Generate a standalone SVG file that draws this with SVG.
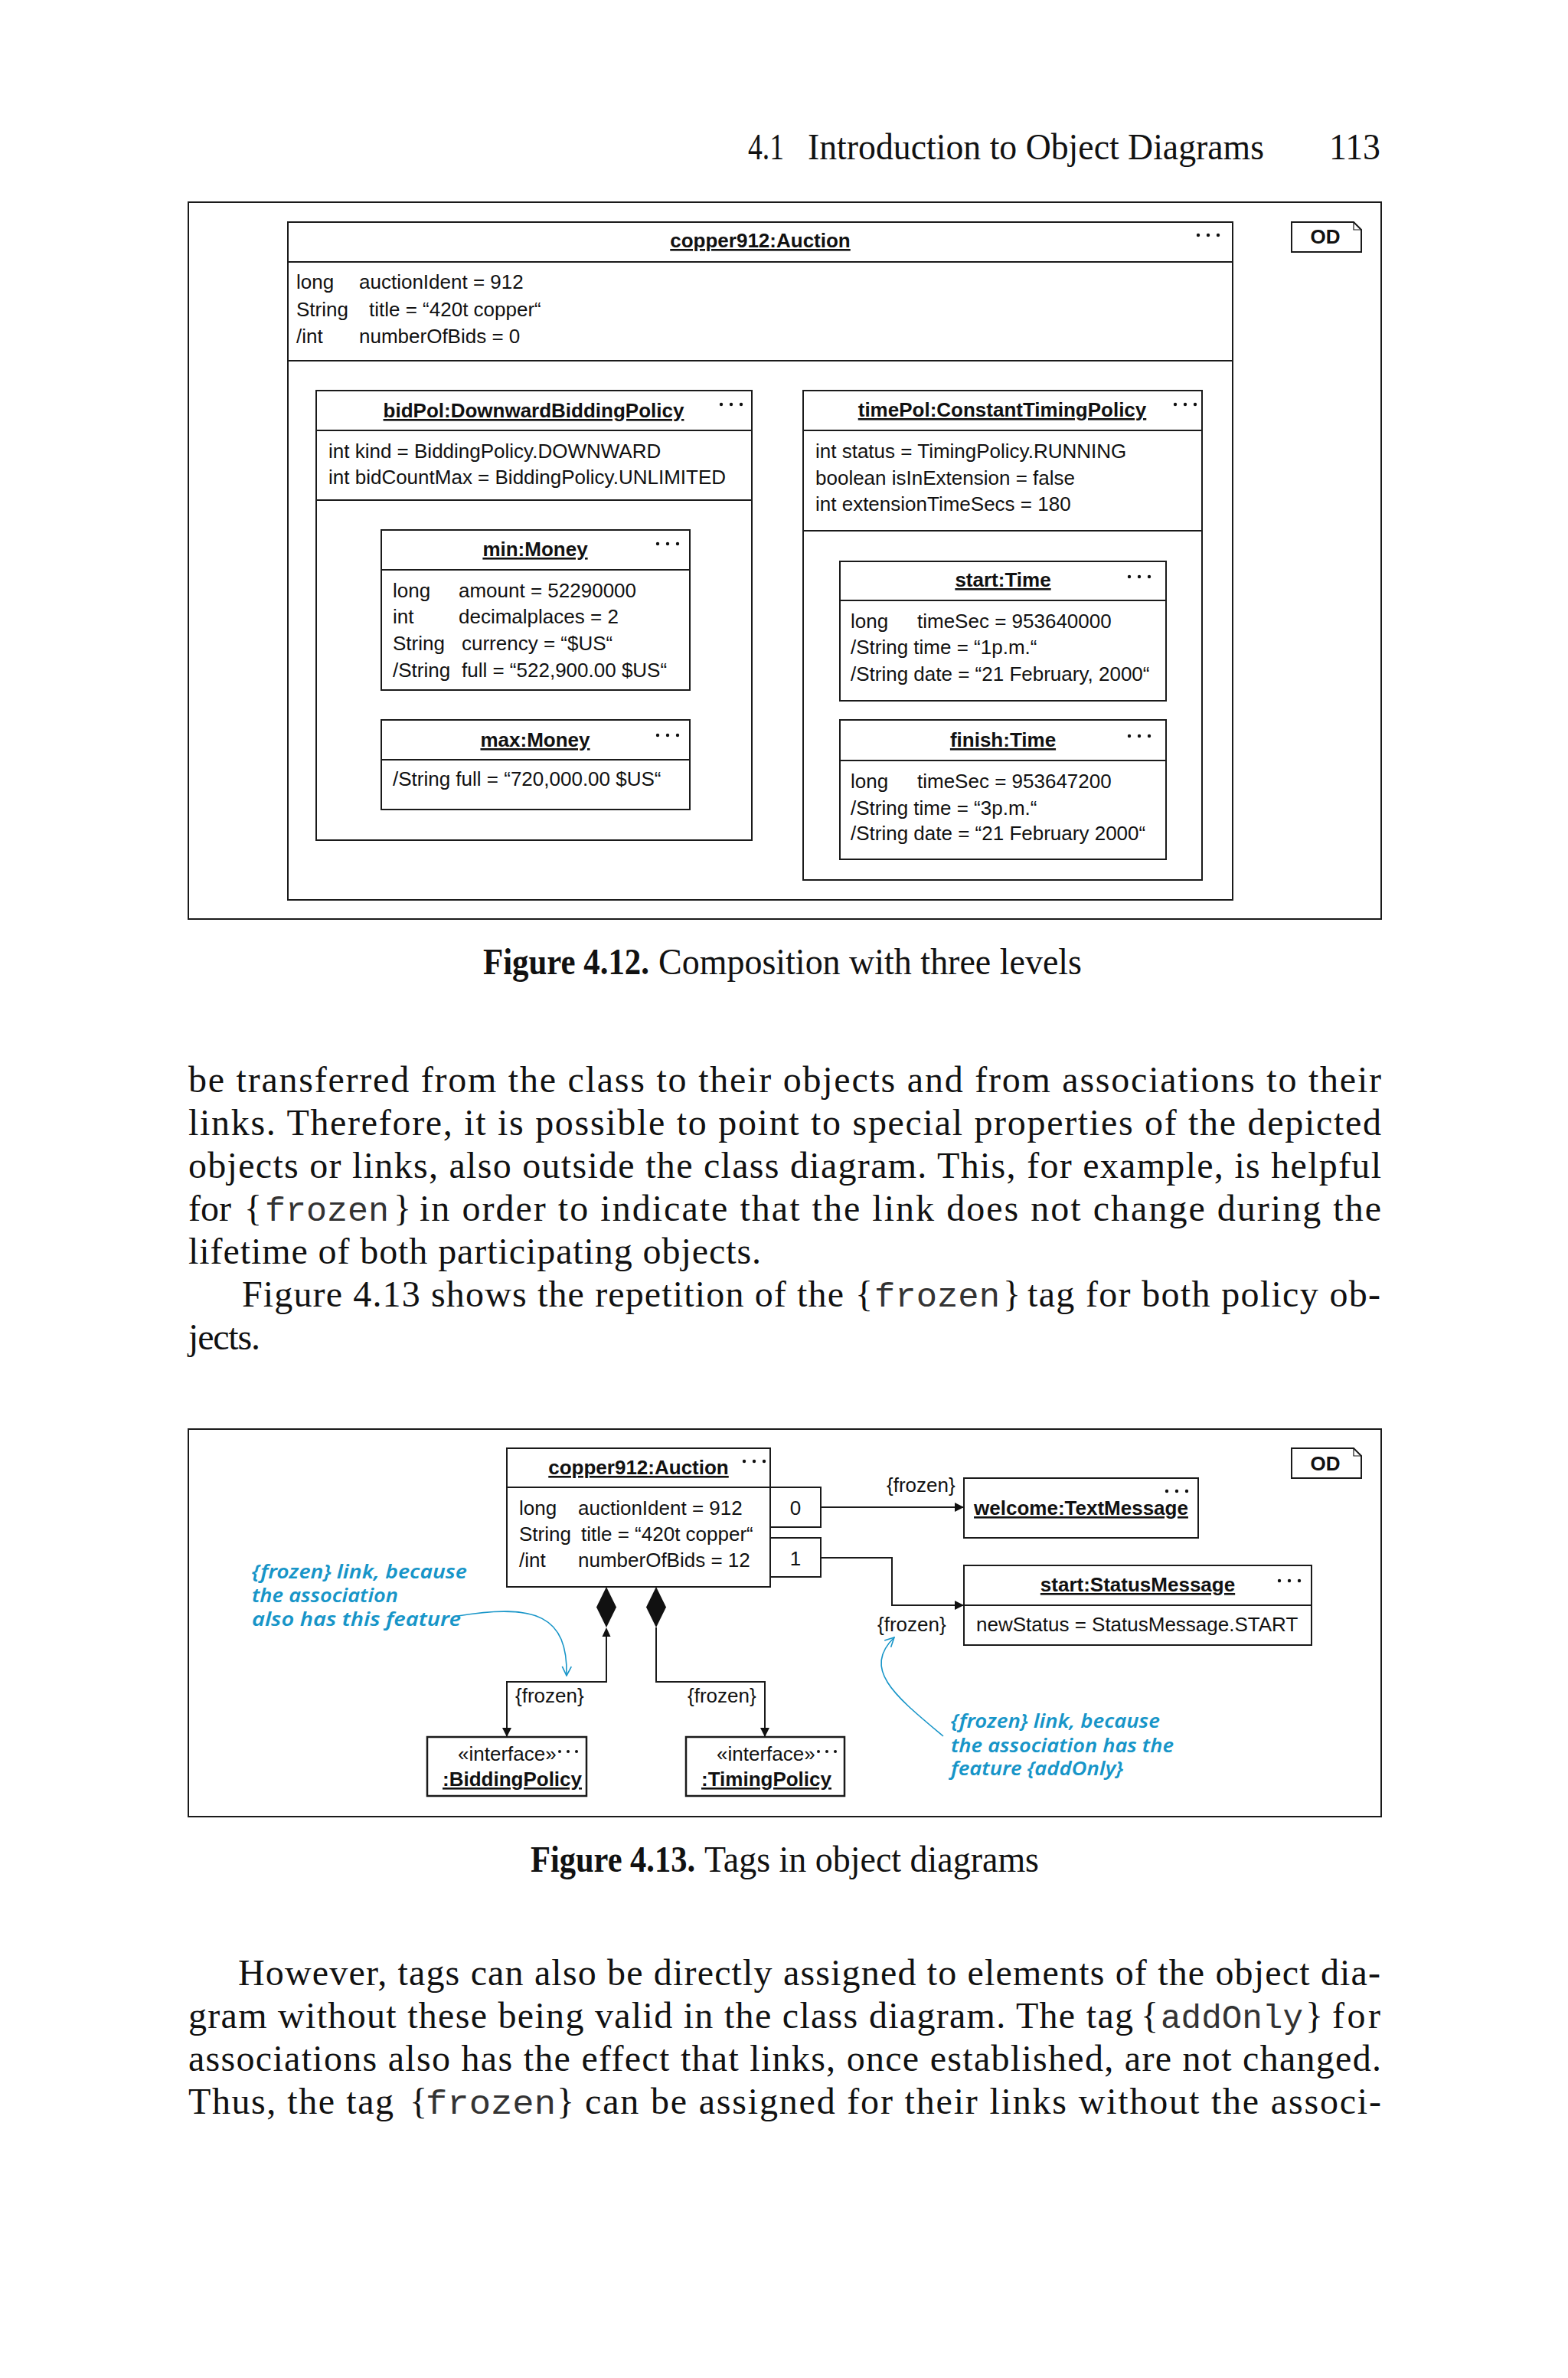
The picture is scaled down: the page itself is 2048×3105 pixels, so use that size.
<svg xmlns="http://www.w3.org/2000/svg" width="2048" height="3105" viewBox="0 0 2048 3105">
<style>
.fr{fill:none;stroke:#1a1a1a;stroke-width:2}
.bx{fill:#fff;stroke:#1a1a1a;stroke-width:2}
.ln{fill:none;stroke:#1a1a1a;stroke-width:2}
.t{font-family:"Liberation Sans",Arial,sans-serif;font-size:26px;fill:#111}
.tb{font-family:"Liberation Sans",Arial,sans-serif;font-size:26px;fill:#111;font-weight:bold;text-decoration:underline}
.od{font-family:"Liberation Sans",Arial,sans-serif;font-size:26px;fill:#111;font-weight:bold}
.c{text-anchor:middle}
.s{font-family:"Liberation Serif","Times New Roman",serif;font-size:48px;fill:#111}
.sb{font-family:"Liberation Serif","Times New Roman",serif;font-size:48px;fill:#111;font-weight:bold}
.m{font-family:"Liberation Mono","Courier New",monospace;font-size:45px;fill:#333}
.bl{font-family:"Noto Sans","DejaVu Sans",sans-serif;font-style:italic;font-weight:600;font-size:26px;fill:#1795c8}
.bc{fill:none;stroke:#1795c8;stroke-width:1.6}
</style>
<defs>
<g id="dots" fill="#111"><circle cx="0" cy="0" r="2.2"/><circle cx="13" cy="0" r="2.2"/><circle cx="26" cy="0" r="2.2"/></g>
<g id="dots2" fill="#111"><circle cx="0" cy="0" r="2"/><circle cx="11" cy="0" r="2"/><circle cx="22" cy="0" r="2"/></g>
<marker id="ah" viewBox="0 0 12 12" refX="12" refY="6" markerWidth="12" markerHeight="12" markerUnits="userSpaceOnUse" orient="auto"><path d="M0,0 L12,6 L0,12 Z" fill="#111"/></marker>
<marker id="bh" viewBox="0 0 14 14" refX="13" refY="7" markerWidth="14" markerHeight="14" markerUnits="userSpaceOnUse" orient="auto"><path d="M1,1 L13,7 L1,13" fill="none" stroke="#1795c8" stroke-width="1.6"/></marker>
</defs>
<rect width="2048" height="3105" fill="#fff"/>

<g id="header">
<text class="s" x="977" y="208" textLength="47" lengthAdjust="spacingAndGlyphs">4.1</text>
<text class="s" x="1055" y="208" textLength="596" lengthAdjust="spacingAndGlyphs">Introduction to Object Diagrams</text>
<text class="s" x="1736" y="208" textLength="67" lengthAdjust="spacingAndGlyphs">113</text>
</g>

<!-- Figure 4.12 -->
<g id="fig412">
<rect class="fr" x="246" y="264" width="1558" height="936"/>
<g id="od1">
<path class="bx" d="M1687 290 H1768 L1778 300 V329 H1687 Z"/>
<path class="ln" style="stroke-width:1.2" d="M1768 290 V300 H1778"/>
<text class="od c" x="1731" y="318">OD</text>
</g>
<g id="copper912_auction_a">
<rect class="bx" x="376" y="290" width="1234" height="885"/>
<line class="ln" x1="376" y1="342" x2="1610" y2="342"/>
<line class="ln" x1="376" y1="471" x2="1610" y2="471"/>
<text class="tb c" x="993" y="323">copper912:Auction</text>
<use href="#dots" x="1565" y="307"/>
<text class="t" x="387" y="377">long</text><text class="t" x="469" y="377">auctionIdent = 912</text>
<text class="t" x="387" y="413">String</text><text class="t" x="482" y="413">title = “420t copper“</text>
<text class="t" x="387" y="448">/int</text><text class="t" x="469" y="448">numberOfBids = 0</text>
</g>
<g id="bidPol">
<rect class="bx" x="413" y="510" width="569" height="587"/>
<line class="ln" x1="413" y1="562" x2="982" y2="562"/>
<line class="ln" x1="413" y1="653" x2="982" y2="653"/>
<text class="tb c" x="697" y="545">bidPol:DownwardBiddingPolicy</text>
<use href="#dots" x="942" y="528"/>
<text class="t" x="429" y="598">int kind = BiddingPolicy.DOWNWARD</text>
<text class="t" x="429" y="632">int bidCountMax = BiddingPolicy.UNLIMITED</text>
</g>
<g id="minMoney">
<rect class="bx" x="498" y="692" width="403" height="209"/>
<line class="ln" x1="498" y1="744" x2="901" y2="744"/>
<text class="tb c" x="699" y="726">min:Money</text>
<use href="#dots" x="859" y="710"/>
<text class="t" x="513" y="780">long</text><text class="t" x="599" y="780">amount = 52290000</text>
<text class="t" x="513" y="814">int</text><text class="t" x="599" y="814">decimalplaces = 2</text>
<text class="t" x="513" y="849">String</text><text class="t" x="603" y="849">currency = “$US“</text>
<text class="t" x="513" y="884">/String</text><text class="t" x="603" y="884">full = “522,900.00 $US“</text>
</g>
<g id="maxMoney">
<rect class="bx" x="498" y="940" width="403" height="117"/>
<line class="ln" x1="498" y1="992" x2="901" y2="992"/>
<text class="tb c" x="699" y="975">max:Money</text>
<use href="#dots" x="859" y="960"/>
<text class="t" x="513" y="1026">/String full = “720,000.00 $US“</text>
</g>
<g id="timePol">
<rect class="bx" x="1049" y="510" width="521" height="639"/>
<line class="ln" x1="1049" y1="562" x2="1570" y2="562"/>
<line class="ln" x1="1049" y1="693" x2="1570" y2="693"/>
<text class="tb c" x="1309" y="544">timePol:ConstantTimingPolicy</text>
<use href="#dots" x="1535" y="528"/>
<text class="t" x="1065" y="598">int status = TimingPolicy.RUNNING</text>
<text class="t" x="1065" y="633">boolean isInExtension = false</text>
<text class="t" x="1065" y="667">int extensionTimeSecs = 180</text>
</g>
<g id="startTime">
<rect class="bx" x="1097" y="733" width="426" height="182"/>
<line class="ln" x1="1097" y1="784" x2="1523" y2="784"/>
<text class="tb c" x="1310" y="766">start:Time</text>
<use href="#dots" x="1475" y="753"/>
<text class="t" x="1111" y="820">long</text><text class="t" x="1198" y="820">timeSec = 953640000</text>
<text class="t" x="1111" y="854">/String time = “1p.m.“</text>
<text class="t" x="1111" y="889">/String date = “21 February, 2000“</text>
</g>
<g id="finishTime">
<rect class="bx" x="1097" y="940" width="426" height="182"/>
<line class="ln" x1="1097" y1="993" x2="1523" y2="993"/>
<text class="tb c" x="1310" y="975">finish:Time</text>
<use href="#dots" x="1475" y="961"/>
<text class="t" x="1111" y="1029">long</text><text class="t" x="1198" y="1029">timeSec = 953647200</text>
<text class="t" x="1111" y="1064">/String time = “3p.m.“</text>
<text class="t" x="1111" y="1097">/String date = “21 February 2000“</text>
</g>
</g>

<g id="caption412">
<text class="sb" x="631" y="1272" textLength="217" lengthAdjust="spacingAndGlyphs">Figure 4.12.</text>
<text class="s" x="860" y="1272" textLength="553" lengthAdjust="spacingAndGlyphs">Composition with three levels</text>
</g>

<g id="para1">
<text class="s" x="246" y="1426" textLength="1558" lengthAdjust="spacing">be transferred from the class to their objects and from associations to their</text>
<text class="s" x="246" y="1482" textLength="1558" lengthAdjust="spacing">links. Therefore, it is possible to point to special properties of the depicted</text>
<text class="s" x="246" y="1538" textLength="1558" lengthAdjust="spacing">objects or links, also outside the class diagram. This, for example, is helpful</text>
<text class="s" x="246" y="1594">for</text>
<text class="s" x="319" y="1594">{</text>
<text class="m" x="346" y="1594" textLength="162" lengthAdjust="spacingAndGlyphs">frozen</text>
<text class="s" x="514" y="1594">}</text>
<text class="s" x="548" y="1594" textLength="1256" lengthAdjust="spacing">in order to indicate that the link does not change during the</text>
<text class="s" x="246" y="1650" textLength="748" lengthAdjust="spacing">lifetime of both participating objects.</text>
<text class="s" x="316" y="1706" textLength="786" lengthAdjust="spacing">Figure 4.13 shows the repetition of the</text>
<text class="s" x="1117" y="1706">{</text>
<text class="m" x="1142" y="1706" textLength="164" lengthAdjust="spacingAndGlyphs">frozen</text>
<text class="s" x="1310" y="1706">}</text>
<text class="s" x="1342" y="1706" textLength="461" lengthAdjust="spacing">tag for both policy ob-</text>
<text class="s" x="246" y="1762" textLength="94" lengthAdjust="spacing">jects.</text>
</g>

<!-- Figure 4.13 -->
<g id="fig413">
<rect class="fr" x="246" y="1866" width="1558" height="506"/>
<g id="od2">
<path class="bx" d="M1687 1891 H1768 L1778 1901 V1930 H1687 Z"/>
<path class="ln" style="stroke-width:1.2" d="M1768 1891 V1901 H1778"/>
<text class="od c" x="1731" y="1920">OD</text>
</g>
<g id="copper912_auction_b">
<rect class="bx" x="662" y="1891" width="344" height="181"/>
<line class="ln" x1="662" y1="1942" x2="1006" y2="1942"/>
<text class="tb c" x="834" y="1925">copper912:Auction</text>
<use href="#dots" x="972" y="1908"/>
<text class="t" x="678" y="1978">long</text><text class="t" x="755" y="1978">auctionIdent = 912</text>
<text class="t" x="678" y="2012">String</text><text class="t" x="759" y="2012">title = “420t copper“</text>
<text class="t" x="678" y="2046">/int</text><text class="t" x="755" y="2046">numberOfBids = 12</text>
</g>
<g id="qual0">
<rect class="bx" x="1006" y="1942" width="66" height="52"/>
<text class="t c" x="1039" y="1978">0</text>
</g>
<g id="qual1">
<rect class="bx" x="1006" y="2008" width="66" height="51"/>
<text class="t c" x="1039" y="2044">1</text>
</g>
<g id="welcome">
<rect class="bx" x="1259" y="1930" width="306" height="78"/>
<use href="#dots" x="1524" y="1947"/>
<text class="tb c" x="1412" y="1978">welcome:TextMessage</text>
</g>
<g id="startStatus">
<rect class="bx" x="1259" y="2044" width="454" height="104"/>
<line class="ln" x1="1259" y1="2096" x2="1713" y2="2096"/>
<text class="tb c" x="1486" y="2078">start:StatusMessage</text>
<use href="#dots" x="1671" y="2064"/>
<text class="t" x="1275" y="2130">newStatus = StatusMessage.START</text>
</g>
<g id="biddingPolicy">
<rect class="bx" x="558" y="2268" width="208" height="77" style="stroke-width:2.5"/>
<text class="t" x="598" y="2299">«interface»</text>
<use href="#dots2" x="731" y="2287"/>
<text class="tb" x="578" y="2332">:BiddingPolicy</text>
</g>
<g id="timingPolicy">
<rect class="bx" x="896" y="2268" width="207" height="77" style="stroke-width:2.5"/>
<text class="t" x="936" y="2299">«interface»</text>
<use href="#dots2" x="1069" y="2287"/>
<text class="tb" x="916" y="2332">:TimingPolicy</text>
</g>

<g id="connectors">
<path class="ln" d="M1072 1968 H1259" marker-end="url(#ah)"/>
<path class="ln" d="M1072 2034 H1165 V2096 H1259" marker-end="url(#ah)"/>
<polygon points="792,2072 805,2098.5 792,2125 779,2098.5" fill="#111"/>
<polygon points="857,2072 870,2098.5 857,2125 844,2098.5" fill="#111"/>
<polygon points="786.5,2137 792,2125 797.5,2137" fill="#111"/>
<path class="ln" d="M792 2137 V2196 H662 V2268" marker-end="url(#ah)"/>
<path class="ln" d="M857 2125 V2196 H999 V2268" marker-end="url(#ah)"/>
<text class="t" x="1158" y="1948">{frozen}</text>
<text class="t" x="1146" y="2130">{frozen}</text>
<text class="t" x="673" y="2223">{frozen}</text>
<text class="t" x="898" y="2223">{frozen}</text>
<path class="bc" d="M598 2110 C700 2093 742 2110 740 2188" marker-end="url(#bh)"/>
<path class="bc" d="M1232 2267 C1170 2215 1125 2180 1168 2138" marker-end="url(#bh)"/>
</g>

<g id="note_left">
<text class="bl" x="329" y="2061" textLength="281" lengthAdjust="spacingAndGlyphs">{frozen} link, because</text>
<text class="bl" x="329" y="2092" textLength="191" lengthAdjust="spacingAndGlyphs">the association</text>
<text class="bl" x="329" y="2123" textLength="273" lengthAdjust="spacingAndGlyphs">also has this feature</text>
</g>
<g id="note_right">
<text class="bl" x="1242" y="2256" textLength="273" lengthAdjust="spacingAndGlyphs">{frozen} link, because</text>
<text class="bl" x="1242" y="2288" textLength="291" lengthAdjust="spacingAndGlyphs">the association has the</text>
<text class="bl" x="1242" y="2318" textLength="225" lengthAdjust="spacingAndGlyphs">feature {addOnly}</text>
</g>
</g>

<g id="caption413">
<text class="sb" x="693" y="2444" textLength="215" lengthAdjust="spacingAndGlyphs">Figure 4.13.</text>
<text class="s" x="920" y="2444" textLength="437" lengthAdjust="spacingAndGlyphs">Tags in object diagrams</text>
</g>

<g id="para2">
<text class="s" x="311" y="2592" textLength="1492" lengthAdjust="spacing">However, tags can also be directly assigned to elements of the object dia-</text>
<text class="s" x="246" y="2648" textLength="1234" lengthAdjust="spacing">gram without these being valid in the class diagram. The tag</text>
<text class="s" x="1490" y="2648">{</text>
<text class="m" x="1516" y="2648" textLength="186" lengthAdjust="spacingAndGlyphs">addOnly</text>
<text class="s" x="1705" y="2648">}</text>
<text class="s" x="1740" y="2648" textLength="63" lengthAdjust="spacing">for</text>
<text class="s" x="246" y="2704" textLength="1558" lengthAdjust="spacing">associations also has the effect that links, once established, are not changed.</text>
<text class="s" x="246" y="2760" textLength="268" lengthAdjust="spacing">Thus, the tag</text>
<text class="s" x="535" y="2760">{</text>
<text class="m" x="556" y="2760" textLength="170" lengthAdjust="spacingAndGlyphs">frozen</text>
<text class="s" x="727" y="2760">}</text>
<text class="s" x="764" y="2760" textLength="1040" lengthAdjust="spacing">can be assigned for their links without the associ-</text>
</g>
</svg>
